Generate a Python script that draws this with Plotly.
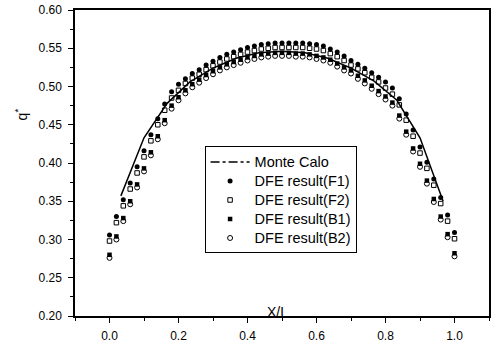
import plotly.graph_objects as go

x_pos = [0.00, 0.02, 0.04, 0.06, 0.08, 0.10, 0.12, 0.14, 0.16, 0.18,
         0.20, 0.22, 0.24, 0.26, 0.28, 0.30, 0.32, 0.34, 0.36, 0.38,
         0.40, 0.42, 0.44, 0.46, 0.48, 0.50, 0.52, 0.54, 0.56, 0.58,
         0.60, 0.62, 0.64, 0.66, 0.68, 0.70, 0.72, 0.74, 0.76, 0.78,
         0.80, 0.82, 0.84, 0.86, 0.88, 0.90, 0.92, 0.94, 0.96, 0.98, 1.00]

F1 = [0.306, 0.330, 0.352, 0.374, 0.395, 0.416, 0.437, 0.458, 0.477, 0.493,
      0.503, 0.510, 0.517, 0.522, 0.528, 0.533, 0.538, 0.542, 0.545, 0.548,
      0.551, 0.553, 0.555, 0.556, 0.557, 0.557,
      0.557, 0.557, 0.557, 0.556, 0.555, 0.553, 0.549, 0.545, 0.540, 0.534,
      0.529, 0.524, 0.518, 0.512, 0.506, 0.498, 0.484, 0.464, 0.443, 0.421,
      0.401, 0.379, 0.355, 0.332, 0.309]
F2 = [0.298, 0.322, 0.344, 0.366, 0.387, 0.408, 0.429, 0.450, 0.469, 0.485,
      0.495, 0.504, 0.511, 0.516, 0.522, 0.527, 0.532, 0.536, 0.539, 0.542,
      0.545, 0.547, 0.549, 0.550, 0.551, 0.551,
      0.551, 0.551, 0.551, 0.550, 0.549, 0.547, 0.543, 0.539, 0.534, 0.528,
      0.523, 0.518, 0.512, 0.506, 0.498, 0.490, 0.476, 0.456, 0.435, 0.413,
      0.393, 0.371, 0.347, 0.324, 0.301]
B1 = [0.280, 0.304, 0.328, 0.350, 0.372, 0.393, 0.414, 0.435, 0.456, 0.475,
      0.486, 0.495, 0.503, 0.509, 0.515, 0.520, 0.525, 0.529, 0.532, 0.535,
      0.538, 0.540, 0.542, 0.543, 0.544, 0.544,
      0.544, 0.543, 0.543, 0.542, 0.540, 0.538, 0.535, 0.530, 0.525, 0.521,
      0.514, 0.508, 0.501, 0.494, 0.487, 0.479, 0.462, 0.441, 0.419, 0.399,
      0.377, 0.353, 0.330, 0.307, 0.282]
B2 = [0.276, 0.300, 0.324, 0.346, 0.368, 0.389, 0.410, 0.431, 0.452, 0.471,
      0.482, 0.491, 0.499, 0.505, 0.511, 0.516, 0.521, 0.525, 0.528, 0.531,
      0.534, 0.536, 0.538, 0.539, 0.540, 0.540,
      0.540, 0.539, 0.539, 0.538, 0.536, 0.534, 0.531, 0.526, 0.521, 0.517,
      0.510, 0.504, 0.497, 0.490, 0.483, 0.475, 0.458, 0.437, 0.415, 0.395,
      0.373, 0.349, 0.326, 0.303, 0.278]

mc_x = [0.033, 0.1, 0.167, 0.233, 0.3, 0.367, 0.433, 0.5, 0.567, 0.633,
        0.7, 0.767, 0.833, 0.9, 0.967]
mc_y = [0.357, 0.433, 0.478, 0.506, 0.524, 0.537, 0.544, 0.546, 0.544, 0.537,
        0.524, 0.507, 0.482, 0.433, 0.350]

x_ticks = [0.0, 0.2, 0.4, 0.6, 0.8, 1.0]
y_ticks = [0.20, 0.25, 0.30, 0.35, 0.40, 0.45, 0.50, 0.55, 0.60]

FONT = "Liberation Sans, Arial, sans-serif"


def leg(name):
    return '<span style="font-size:14.5px">%s</span>' % name


fig = go.Figure()
# Monte Calo curve (solid in plot, dash-dot in legend)
fig.add_trace(go.Scatter(x=mc_x, y=mc_y, mode="lines", showlegend=False,
                         line=dict(color="black", width=1.5)))
fig.add_trace(go.Scatter(x=[None], y=[None], mode="lines", name=leg("Monte Calo"),
                         line=dict(color="black", width=1.5, dash="dashdot")))
fig.add_trace(go.Scatter(x=x_pos, y=F1, mode="markers", name=leg("DFE result(F1)"),
                         marker=dict(symbol="circle", size=5, color="black")))
fig.add_trace(go.Scatter(x=x_pos, y=F2, mode="markers", name=leg("DFE result(F2)"),
                         marker=dict(symbol="square-open", size=4.5, color="black",
                                     line=dict(width=1, color="black"))))
fig.add_trace(go.Scatter(x=x_pos, y=B1, mode="markers", name=leg("DFE result(B1)"),
                         marker=dict(symbol="square", size=4.5, color="black")))
fig.add_trace(go.Scatter(x=x_pos, y=B2, mode="markers", name=leg("DFE result(B2)"),
                         marker=dict(symbol="circle-open", size=5, color="black",
                                     line=dict(width=1, color="black"))))

axis_common = dict(showgrid=False, zeroline=False, showline=True, linecolor="black",
                   linewidth=1.5, mirror=True, ticks="outside", tickcolor="black",
                   tickwidth=1, tickfont=dict(family=FONT, size=12, color="black"))

fig.update_xaxes(range=[-0.1, 1.1], tickvals=x_ticks, ticktext=["%.1f" % v for v in x_ticks],
                 ticklen=5, ticklabelstandoff=3,
                 minor=dict(ticks="outside", ticklen=3, dtick=0.1, tick0=0,
                            tickcolor="black"),
                 **axis_common)
fig.update_yaxes(range=[0.20, 0.60], tickvals=y_ticks, ticktext=["%.2f" % v for v in y_ticks],
                 ticklen=5, ticklabelstandoff=4,
                 minor=dict(ticks="outside", ticklen=3, dtick=0.025, tick0=0.2,
                            tickcolor="black"),
                 **axis_common)

fig.add_annotation(x=0.487, y=0.205, xref="x", yref="y", text="X/L", showarrow=False,
                   font=dict(family=FONT, size=14, color="black"))
fig.add_annotation(x=-0.158, y=0.463, xref="paper", yref="y", text="q<sup>*</sup>",
                   textangle=-90, showarrow=False,
                   font=dict(family=FONT, size=14, color="black"))

fig.update_layout(
    width=493, height=345,
    margin=dict(l=75, r=2, t=10, b=28),
    paper_bgcolor="white", plot_bgcolor="white",
    showlegend=True,
    legend=dict(x=0.313, y=0.554, xanchor="left", yanchor="top",
                bgcolor="white", bordercolor="black", borderwidth=1,
                font=dict(family=FONT, size=12.3, color="black"),
                tracegroupgap=0, itemwidth=39),
)

fig.write_html("out.html")
